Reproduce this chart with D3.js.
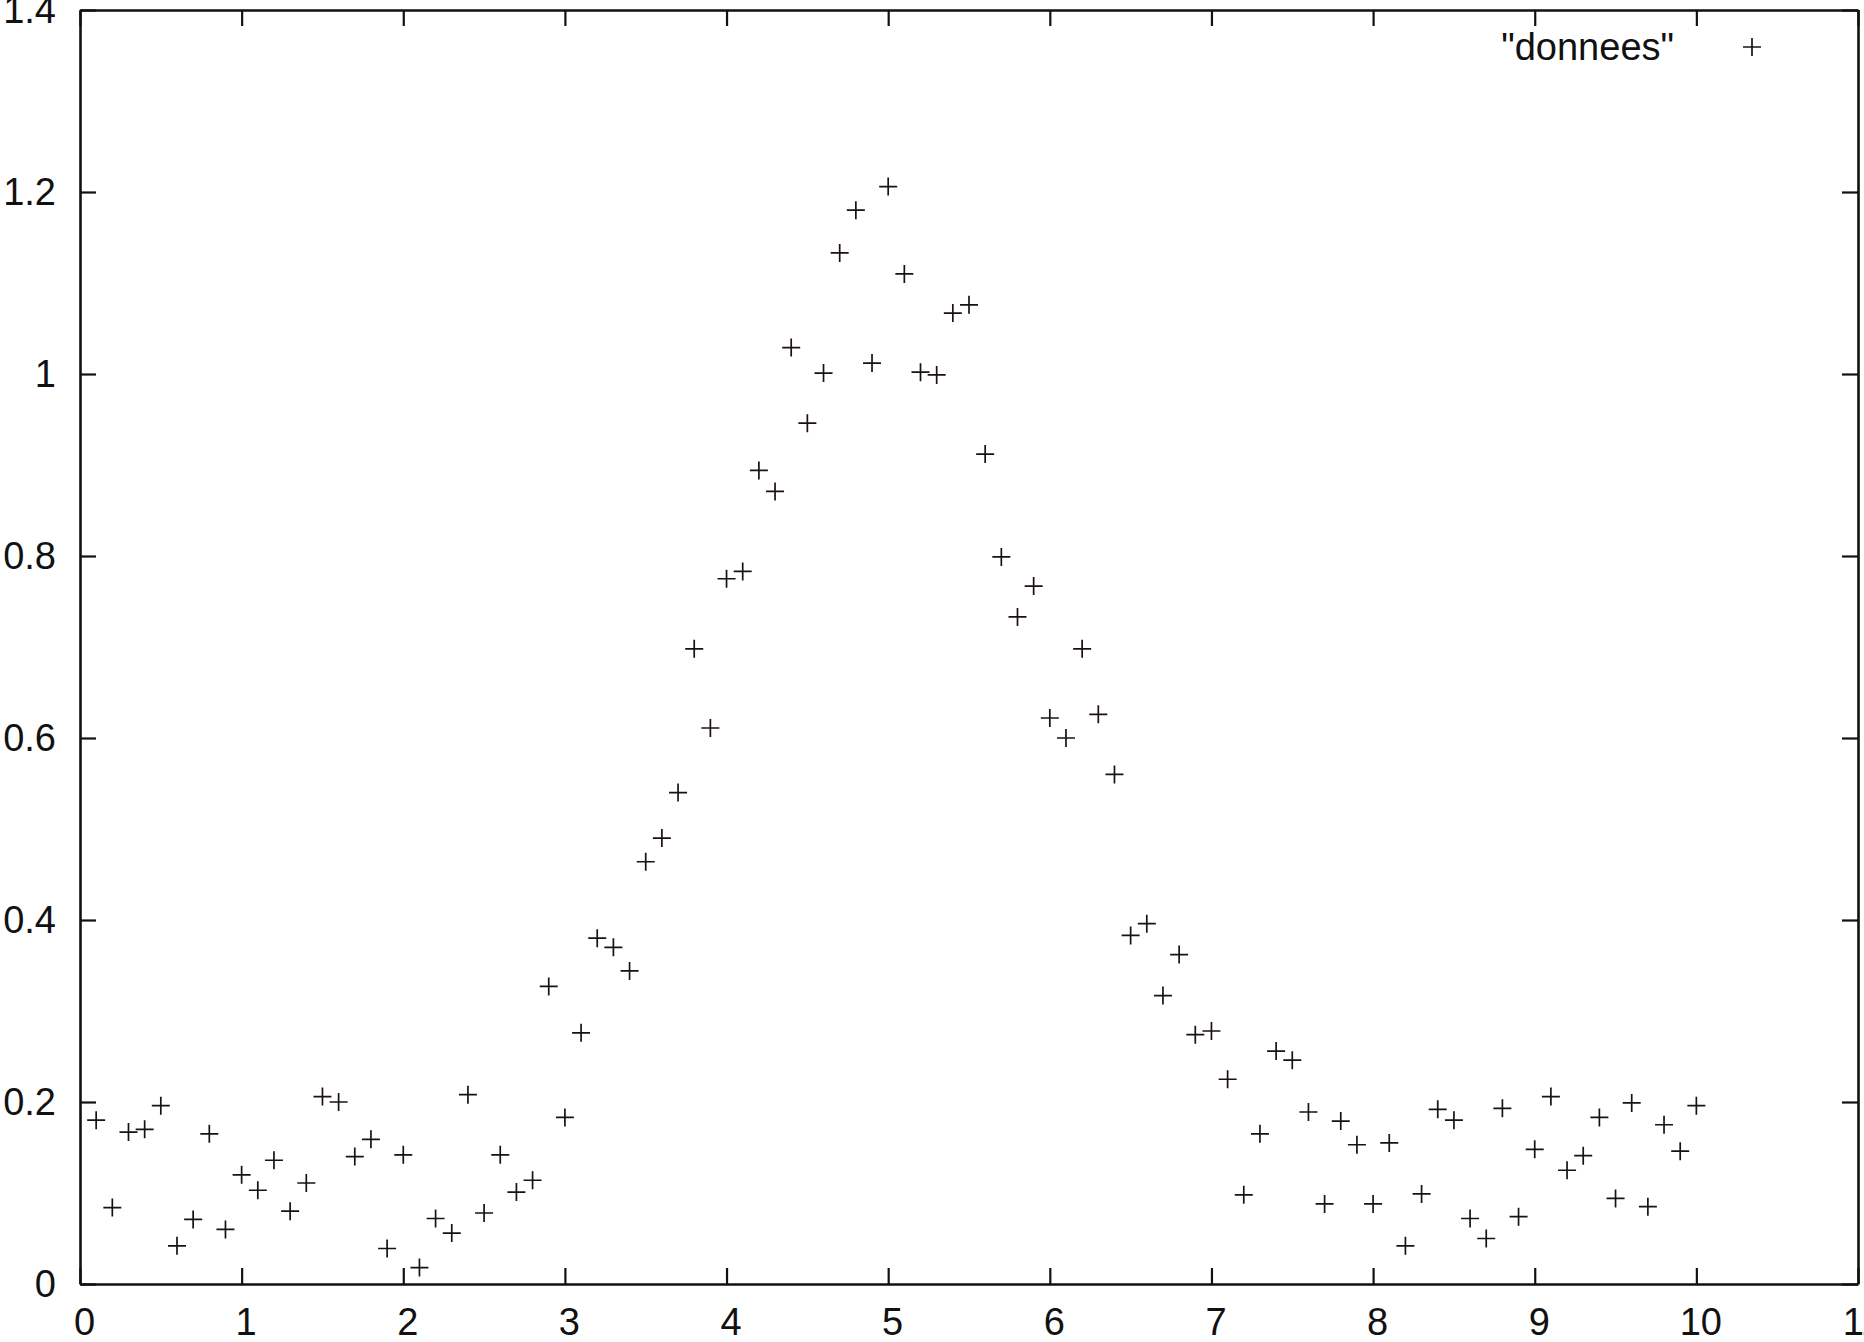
<!DOCTYPE html>
<html><head><meta charset="utf-8">
<script src="https://cdn.jsdelivr.net/npm/d3@7"></script>
<style>html,body{margin:0;padding:0;background:#fff;overflow:hidden}</style>
</head><body>
<svg id="c" width="1864" height="1342"></svg>
<script>
const xValues = [0.1,0.2,0.3,0.4,0.5,0.6,0.7,0.8,0.9,1.0,1.1,1.2,1.3,1.4,1.5,1.6,1.7,1.8,1.9,2.0,2.1,2.2,2.3,2.4,2.5,2.6,2.7,2.8,2.9,3.0,3.1,3.2,3.3,3.4,3.5,3.6,3.7,3.8,3.9,4.0,4.1,4.2,4.3,4.4,4.5,4.6,4.7,4.8,4.9,5.0,5.1,5.2,5.3,5.4,5.5,5.6,5.7,5.8,5.9,6.0,6.1,6.2,6.3,6.4,6.5,6.6,6.7,6.8,6.9,7.0,7.1,7.2,7.3,7.4,7.5,7.6,7.7,7.8,7.9,8.0,8.1,8.2,8.3,8.4,8.5,8.6,8.7,8.8,8.9,9.0,9.1,9.2,9.3,9.4,9.5,9.6,9.7,9.8,9.9,10.0];
const yValues = [0.180,0.084,0.167,0.170,0.196,0.042,0.071,0.165,0.060,0.120,
0.103,0.136,0.080,0.111,0.206,0.200,0.140,0.159,0.039,0.142,
0.018,0.072,0.056,0.208,0.078,0.142,0.101,0.114,0.327,0.183,
0.276,0.380,0.370,0.344,0.464,0.490,0.540,0.698,0.611,0.775,
0.783,0.894,0.871,1.029,0.946,1.001,1.133,1.180,1.012,1.206,
1.110,1.002,0.999,1.067,1.076,0.912,0.799,0.733,0.767,0.622,
0.600,0.698,0.626,0.560,0.383,0.396,0.317,0.362,0.274,0.278,
0.225,0.098,0.165,0.256,0.246,0.189,0.088,0.179,0.153,0.088,
0.155,0.042,0.099,0.192,0.180,0.072,0.050,0.193,0.074,0.148,
0.206,0.125,0.141,0.183,0.094,0.199,0.085,0.175,0.146,0.196];
const xTicks = [0,1,2,3,4,5,6,7,8,9,10,11];
const yTicks = [0,0.2,0.4,0.6,0.8,1,1.2,1.4];
const seriesName = '"donnees"';

const svg = d3.select("#c");
const L = 80, R = 1858, T = 10, B = 1284;
const x = d3.scaleLinear().domain([0, 11]).range([L, R]);
const y = d3.scaleLinear().domain([0, 1.4]).range([B, T]);
const font = "'Liberation Sans', Arial, Helvetica, sans-serif";
const fs = 38;
const tk = 16;

// bottom axis with labels
const gB = svg.append("g").attr("transform", `translate(0,${B})`)
  .call(d3.axisBottom(x).tickValues(xTicks).tickFormat(d3.format("d")).tickSizeInner(-tk).tickSizeOuter(0).tickPadding(24));
// left axis with labels
const gL = svg.append("g").attr("transform", `translate(${L},0)`)
  .call(d3.axisLeft(y).tickValues(yTicks).tickFormat(d => d3.format("")(+d.toFixed(1))).tickSizeInner(-tk).tickSizeOuter(0).tickPadding(24));
// top and right mirror ticks
const gT = svg.append("g").attr("transform", `translate(0,${T})`)
  .call(d3.axisTop(x).tickValues(xTicks).tickFormat("").tickSizeInner(-tk).tickSizeOuter(0));
const gR = svg.append("g").attr("transform", `translate(${R},0)`)
  .call(d3.axisRight(y).tickValues(yTicks).tickFormat("").tickSizeInner(-tk).tickSizeOuter(0));

[gB, gL, gT, gR].forEach(g => {
  g.selectAll(".domain").attr("stroke", "#111").attr("stroke-width", 2.6);
  g.selectAll(".tick line").attr("stroke", "#111").attr("stroke-width", 2.2);
  g.selectAll(".tick text").attr("fill", "#111").style("font-family", font).style("font-size", fs + "px");
});
gB.selectAll(".tick text").attr("dx", 4);

// points as plus markers
const hs = 9;
const pts = svg.append("g").attr("stroke", "#1a1212").attr("stroke-width", 1.7).attr("fill", "none");
const data = xValues.map((v, i) => ({x: v, y: yValues[i]}));
pts.selectAll("path").data(data).join("path")
  .attr("d", d => {
    const cx = x(d.x), cy = y(d.y);
    return `M${cx - hs},${cy}H${cx + hs}M${cx},${cy - hs}V${cy + hs}`;
  });

// legend
const lg = svg.append("g");
lg.append("text").attr("x", 1674).attr("y", 60).attr("text-anchor", "end")
  .attr("fill", "#111").style("font-family", font).style("font-size", fs + "px").text(seriesName);
lg.append("path").attr("stroke", "#1a1212").attr("stroke-width", 1.7)
  .attr("d", `M${1752 - hs},47H${1752 + hs}M1752,${47 - hs}V${47 + hs}`);
</script>
</body></html>
